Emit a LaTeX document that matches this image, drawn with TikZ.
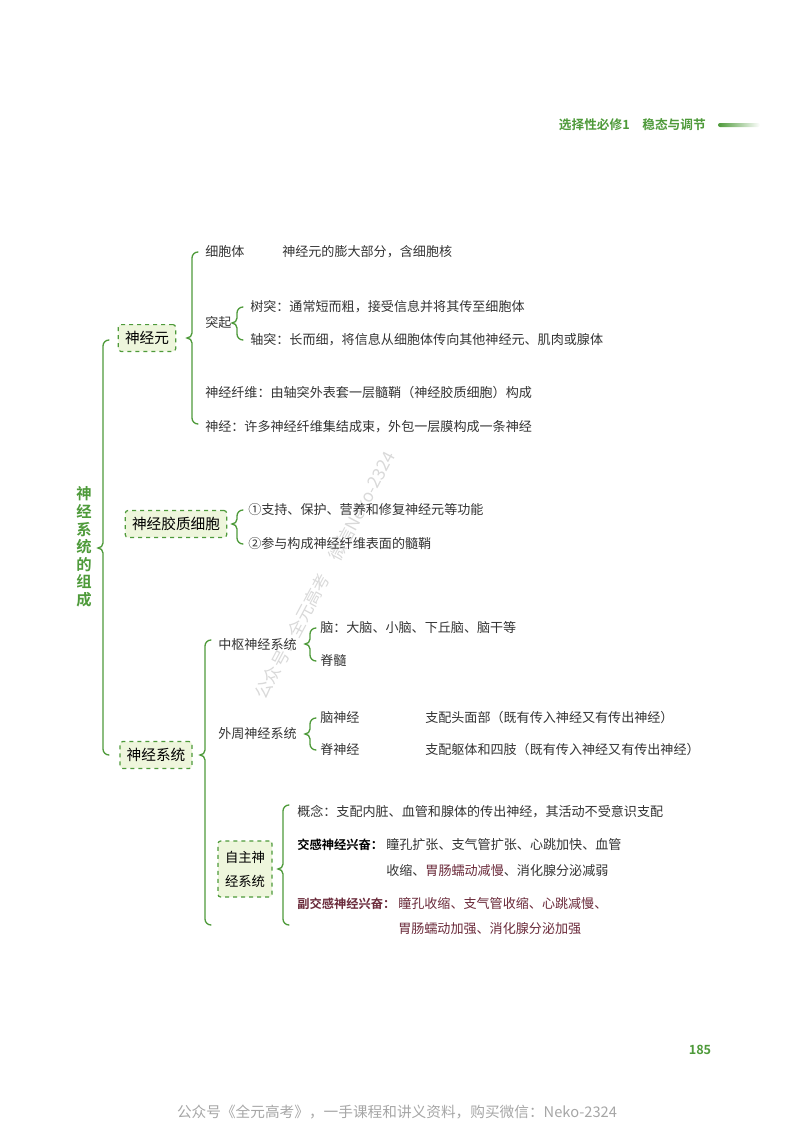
\documentclass[tikz,border=0pt]{standalone}
\usepackage{fontspec}
\setmainfont{Noto Sans CJK SC}
\newfontfamily\cjkb{Noto Sans CJK SC Bold}
\begin{document}
\begin{tikzpicture}[x=0.75pt,y=-0.75pt,
  gline/.style={draw=gr, line width=1pt, line cap=round},
  box/.style={draw=gr, dashed, fill=boxfill, rounded corners=2pt, line width=0.9pt, inner sep=5pt, font=\fontsize{11}{13}\selectfont},
  t/.style={anchor=west, inner sep=0pt, font=\fontsize{9.8}{11}\selectfont, text=txt},
  tr/.style={t, text=dred},
]
\definecolor{gr}{HTML}{4E9A3A}
\definecolor{boxfill}{HTML}{EEF6DC}
\definecolor{txt}{HTML}{333333}
\definecolor{dred}{HTML}{6A2A3A}
\useasboundingbox (0,0) rectangle (800,1132);
\newcommand\brc[4]{\draw[gline] (#1+6,#2) to[out=180,in=90] (#1,#2+6) -- (#1,#4-5) to[out=-90,in=0] (#1-5,#4) to[out=0,in=90] (#1,#4+5) -- (#1,#3-6) to[out=-90,in=180] (#1+6,#3);}
% watermark
\node[rotate=62, text=gray!30, font=\fontsize{13}{15}\selectfont, inner sep=0pt] (wm) at (325,575) {公众号：全元高考\quad 微信Neko-2324};
% header
\node[anchor=east, inner sep=0pt, text=gr, font=\cjkb\fontsize{9.5}{11}\selectfont] (hdr) at (706,125) {选择性必修1\quad 稳态与调节};
\shade[left color=gr, right color=white, rounded corners=1.5pt] (718,123) rectangle (760,127);
% title
\node[text=gr, font=\cjkb\fontsize{11.5}{13.2}\selectfont, align=center, inner sep=0pt] (title) at (84,547) {神\\经\\系\\统\\的\\组\\成};
\brc{103}{340}{755}{548}
\node[box] (n1) at (147,338) {神经元};
\node[box] (n2) at (176,524) {神经胶质细胞};
\node[box] (n3) at (156,755) {神经系统};
% neuron
\brc{192}{252}{424}{338}
\node[t] (a1) at (205,252) {细胞体};
\node[t] (a1b) at (282,252) {神经元的膨大部分，含细胞核};
\node[t] (a2) at (205,323) {突起};
\brc{237}{307}{340}{323}
\node[t] (a21) at (250,307) {树突：通常短而粗，接受信息并将其传至细胞体};
\node[t] (a22) at (250,340) {轴突：长而细，将信息从细胞体传向其他神经元、肌肉或腺体};
\node[t] (a3) at (205,393) {神经纤维：由轴突外表套一层髓鞘（神经胶质细胞）构成};
\node[t] (a4) at (205,427) {神经：许多神经纤维集结成束，外包一层膜构成一条神经};
% glia
\brc{237}{510}{544}{524}
\node[t] (b1) at (248,510) {①支持、保护、营养和修复神经元等功能};
\node[t] (b2) at (248,544) {②参与构成神经纤维表面的髓鞘};
% system
\brc{205}{640}{925}{755}
\node[t] (c1) at (218,644) {中枢神经系统};
\brc{310}{628}{661}{644}
\node[t] (c11) at (320,628) {脑：大脑、小脑、下丘脑、脑干等};
\node[t] (c12) at (320,661) {脊髓};
\node[t] (c2) at (218,734) {外周神经系统};
\brc{310}{718}{750}{734}
\node[t] (c21) at (320,718) {脑神经};
\node[t] (c21b) at (425,718) {支配头面部（既有传入神经又有传出神经）};
\node[t] (c22) at (320,750) {脊神经};
\node[t] (c22b) at (425,750) {支配躯体和四肢（既有传入神经又有传出神经）};
\node[box, align=center, font=\fontsize{10}{18}\selectfont, minimum width=54pt*0.75, minimum height=56pt*0.75, inner sep=3pt] (c3) at (245,869) {自主神\\经系统};
\brc{283}{805}{925}{869}
\node[t] (d1) at (297,812) {概念：支配内脏、血管和腺体的传出神经，其活动不受意识支配};
\node[t, font=\cjkb\fontsize{9.2}{11}\selectfont, text=black] (d2) at (297,845) {交感神经兴奋：};
\node[t] (d2a) at (386,845) {瞳孔扩张、支气管扩张、心跳加快、血管};
\node[t] (d2b) at (386,871) {收缩、\textcolor{dred}{胃肠蠕动减慢}、消化腺分泌减弱};
\node[t, font=\cjkb\fontsize{9.2}{11}\selectfont, text=dred] (d3) at (297,904) {副交感神经兴奋：};
\node[tr] (d3a) at (398,904) {瞳孔收缩、支气管收缩、心跳减慢、};
\node[tr] (d3b) at (398,929) {胃肠蠕动加强、消化腺分泌加强};
% page number and footer
\node[text=gr, font=\cjkb\fontsize{9.5}{11}\selectfont, inner sep=0pt] (pg) at (700,1050) {185};
\node[text=gray!70, font=\fontsize{11}{13}\selectfont, inner sep=0pt] (ft) at (397,1112) {公众号《全元高考》，一手课程和讲义资料，购买微信：Neko-2324};
\end{tikzpicture}
\end{document}
